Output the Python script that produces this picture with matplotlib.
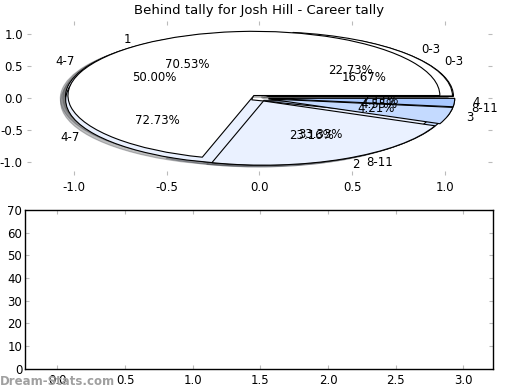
import matplotlib
matplotlib.use('Agg')
import matplotlib.pyplot as plt

plt.rcParams['axes.unicode_minus'] = False

# data
title = 'Behind tally for Josh Hill - Career tally'
behind_labels = ['0-3', '4-7', '8-11']
behind_a = [5, 16, 1]
behind_b = [1, 3, 2]
tally_labels = ['1', '2', '3', '4']
tally_counts = [67, 22, 4, 2]

colors = ['#ffffff', '#eaf1ff', '#c4daff', '#a8c8ff']
bottom_xticks = [0.0, 0.5, 1.0, 1.5, 2.0, 2.5, 3.0]
bottom_yticks = [0, 10, 20, 30, 40, 50, 60, 70]

fig = plt.figure(figsize=(5.2, 3.9), dpi=100)
ax1 = fig.add_axes([0.052, 0.551, 0.894, 0.395])
ax2 = fig.add_axes([0.048, 0.054, 0.90, 0.408])

for vals, labs in [(behind_b, behind_labels), (behind_a, behind_labels),
                   (tally_counts, tally_labels)]:
    ax1.pie(vals, labels=labs, colors=colors[:len(vals)],
            explode=[0.05] * len(vals),
            shadow={'ox': -0.02, 'oy': -0.02, 'alpha': 0.35},
            autopct='%.2f%%',
            wedgeprops={'edgecolor': 'black', 'linewidth': 0.8},
            textprops={'fontsize': 8.5}, frame=True)

ax1.set_aspect('auto')
ax1.set_xlim(-1.25, 1.25)
ax1.set_ylim(-1.2, 1.2)
ax1.set_xticks([-1.0, -0.5, 0.0, 0.5, 1.0])
ax1.set_yticks([-1.0, -0.5, 0.0, 0.5, 1.0])
ax1.set_frame_on(False)
ax1.set_title(title, fontsize=9.5, pad=5)

ax2.set_xlim(-0.24, 3.22)
ax2.set_ylim(0, 70)
ax2.set_xticks(bottom_xticks)
ax2.set_yticks(bottom_yticks)
for sp in ax2.spines.values():
    sp.set_linewidth(1.0)
    sp.set_color('black')

for ax in (ax1, ax2):
    ax.tick_params(direction='in', top=True, right=True, length=3,
                   color='#bbbbbb', labelsize=8.5, pad=4)
ax1.tick_params(axis='y', pad=3)
ax2.tick_params(axis='y', pad=2)

fig.text(0.0, 0.005, 'Dream-Stats.com', color='#a0a0a0', fontsize=8.5,
         fontweight='bold', ha='left', va='bottom')

fig.savefig('out.png')
plt.close(fig)
